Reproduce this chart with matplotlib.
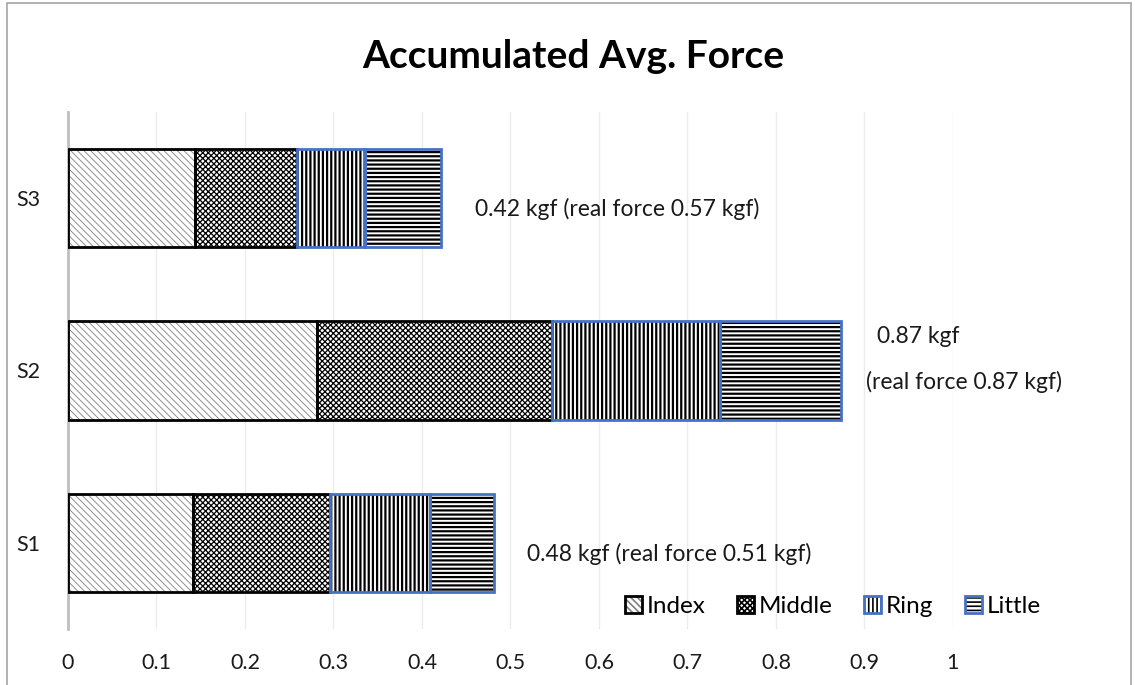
import matplotlib
matplotlib.use('Agg')
import matplotlib.pyplot as plt
from matplotlib.patches import Patch, Rectangle
from matplotlib.legend_handler import HandlerTuple

# ============================================================
# DATA
# ============================================================
subjects = ["S1", "S2", "S3"]
fingers = ["Index", "Middle", "Ring", "Little"]
index_force = [0.141, 0.281, 0.144]
middle_force = [0.155, 0.266, 0.115]
ring_force = [0.113, 0.190, 0.077]
little_force = [0.072, 0.137, 0.086]
real_force = [0.51, 0.87, 0.57]

# ============================================================
# STYLE
# ============================================================
plt.rcParams['font.family'] = ['Lato', 'DejaVu Sans']
plt.rcParams['hatch.linewidth'] = 1.2

BLUE = '#4472C4'
TXT = '#1a1a1a'
styles = [
    # hatch, hatch colour, hatch width, edge colour
    ('\\\\\\\\\\', '#808080', 0.6, 'black'),
    ('xxxxxx', 'black', 0.9, 'black'),
    ('||||', 'black', 1.6, BLUE),
    ('----', 'black', 1.6, BLUE),
]


def hatch_width(patches, lw):
    # per-artist hatch width when the installed matplotlib supports it
    for p in patches:
        if hasattr(p, 'set_hatch_linewidth'):
            p.set_hatch_linewidth(lw)


fig = plt.figure(figsize=(11.35, 6.85), dpi=100)
ax = fig.add_axes([0.0599, 0.0818, 0.7797, 0.7547])

series = [index_force, middle_force, ring_force, little_force]
ypos = list(range(len(subjects)))
left = [0.0] * len(subjects)
handles = []
for vals, (hatch, hcol, hlw, ecol) in zip(series, styles):
    bars = ax.barh(ypos, vals, left=left, height=0.57, color='white',
                   hatch=hatch, edgecolor=hcol, linewidth=0, zorder=2)
    hatch_width(bars, hlw)
    ax.barh(ypos, vals, left=left, height=0.57, fill=False,
            edgecolor=ecol, linewidth=2, zorder=3)
    left = [l + v for l, v in zip(left, vals)]
    h = Patch(facecolor='white', hatch=hatch, edgecolor=hcol, linewidth=0)
    hatch_width([h], hlw)
    handles.append((h, Patch(fill=False, edgecolor=ecol, linewidth=2)))

totals = left

# value labels next to each bar
for i, (tot, real) in enumerate(zip(totals, real_force)):
    if subjects[i] == "S2":
        ax.text(tot + 0.040, i + 0.197, f"{tot:.2f} kgf", fontsize=16.5,
                va='center', ha='left', color=TXT)
        ax.text(tot + 0.028, i - 0.064, f"(real force {real:.2f} kgf)", fontsize=16.5,
                va='center', ha='left', color=TXT)
    else:
        ax.text(tot + 0.038, i - 0.064, f"{tot:.2f} kgf (real force {real:.2f} kgf)",
                fontsize=16.5, va='center', ha='left', color=TXT)

ax.set_xlim(0, 1)
ax.set_ylim(-0.5, 2.5)
ax.set_xticks([0, 0.1, 0.2, 0.3, 0.4, 0.5, 0.6, 0.7, 0.8, 0.9, 1])
ax.set_xticklabels(['0', '0.1', '0.2', '0.3', '0.4', '0.5', '0.6', '0.7', '0.8', '0.9', '1'])
ax.set_yticks(ypos)
ax.set_yticklabels(subjects)
ax.tick_params(length=0, labelsize=15.5, labelcolor=TXT)
ax.tick_params(axis='x', pad=17)
ax.tick_params(axis='y', pad=20)
ax.grid(axis='x', color='#ececec', linewidth=1, zorder=0)
ax.set_axisbelow(True)
for side in ['top', 'right', 'bottom']:
    ax.spines[side].set_visible(False)
ax.spines['left'].set_color('#bfbfbf')
ax.spines['left'].set_linewidth(2)

fig.text(0.505, 0.918, "Accumulated Avg. Force", ha='center', va='center',
         fontsize=28, fontweight='bold', color='black')

fig.legend(handles, fingers, handler_map={tuple: HandlerTuple(ndivide=1, pad=0)},
           loc='center left', bbox_to_anchor=(0.531, 0.114), ncol=4, frameon=False,
           fontsize=17.5, handlelength=0.7, handleheight=0.7, handletextpad=0.2,
           columnspacing=1.3)

# outer border of the chart area
fig.patches.append(Rectangle((7 / 1135, -0.01), 1124 / 1135, 1.01 - 3 / 685,
                             transform=fig.transFigure, fill=False,
                             edgecolor='#a6a6a6', linewidth=1.2))

plt.savefig('out.png', dpi=100)
